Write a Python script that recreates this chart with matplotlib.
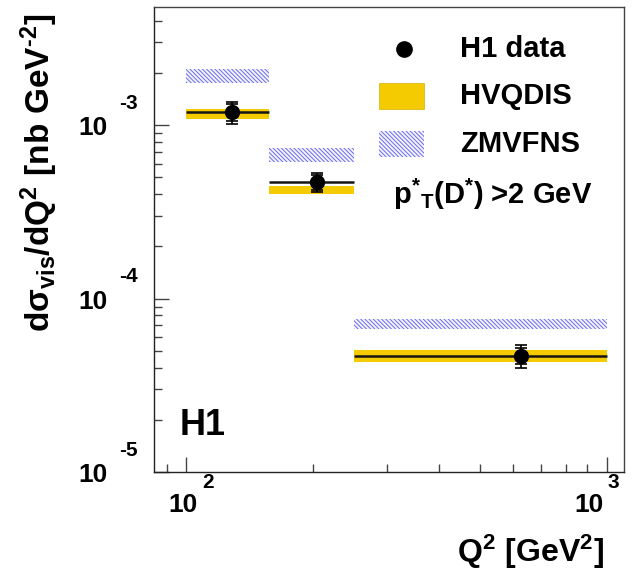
import numpy as np
import matplotlib
matplotlib.use('Agg')
import matplotlib.pyplot as plt
from matplotlib.transforms import blended_transform_factory, offset_copy

plt.rcParams['font.family'] = ['Liberation Sans', 'DejaVu Sans']
plt.rcParams['font.weight'] = 'bold'
plt.rcParams['mathtext.fontset'] = 'custom'
plt.rcParams['mathtext.rm'] = 'Liberation Sans:bold'
plt.rcParams['mathtext.it'] = 'Liberation Sans:bold'
plt.rcParams['mathtext.bf'] = 'Liberation Sans:bold'
plt.rcParams['hatch.linewidth'] = 0.7

# Q^2 bins and measured cross sections
bin_edges = [100, 158, 251, 1000]
q2_centre = [129, 205, 625]
h1_data = [1.19e-3, 4.70e-4, 4.68e-5]
h1_stat = [0.14e-3, 0.45e-4, 0.51e-5]
h1_tot = [0.17e-3, 0.60e-4, 0.70e-5]

# theory bands (low, high)
hvqdis_lo = [1.09e-3, 4.01e-4, 4.32e-5]
hvqdis_hi = [1.24e-3, 4.44e-4, 5.07e-5]
zmvfns_lo = [1.74e-3, 6.12e-4, 6.66e-5]
zmvfns_hi = [2.10e-3, 7.38e-4, 7.67e-5]

yellow = '#f4cb00'
hatch_col = '#6a6aee'
hatch = '\\' * 8

fig = plt.figure(figsize=(6.41, 5.71), dpi=100)
ax = fig.add_axes([154/641, 1-472/571, 470/641, 465/571])
ax.set_xscale('log')
ax.set_yscale('log')
ax.set_xlim(84, 1100)
ax.set_ylim(1e-5, 4.8e-3)

for i in range(3):
    xs = [bin_edges[i], bin_edges[i+1]]
    ax.fill_between(xs, zmvfns_lo[i], zmvfns_hi[i], facecolor='#f4f4ff',
                    edgecolor=hatch_col, hatch=hatch, linewidth=0)
    ax.fill_between(xs, hvqdis_lo[i], hvqdis_hi[i], color=yellow, linewidth=0)

xerr = [np.array(q2_centre) - np.array(bin_edges[:-1]),
        np.array(bin_edges[1:]) - np.array(q2_centre)]
ax.errorbar(q2_centre, h1_data, xerr=xerr, fmt='none', ecolor='#151515',
            elinewidth=1.8)
ax.errorbar(q2_centre, h1_data, yerr=h1_tot, fmt='none', ecolor='black',
            elinewidth=1.2, capsize=4, capthick=1.2)
ax.errorbar(q2_centre, h1_data, yerr=h1_stat, fmt='o', color='black',
            ms=10, elinewidth=1.2, capsize=4, capthick=1.2)

# ticks, ROOT style
for s in ['top', 'right']:
    ax.spines[s].set_color('#444444')
for s in ['left', 'bottom']:
    ax.spines[s].set_color('#222222')
for s in ax.spines.values():
    s.set_linewidth(1.0)
ax.tick_params(which='both', direction='in', top=False, right=False,
               color='#444444', labelleft=False, labelbottom=False)
ax.tick_params(which='major', length=11, width=1)
ax.tick_params(which='minor', length=5.5, width=1)

ydec = [1e-3, 1e-4, 1e-5]
yexp = ['-3', '-4', '-5']
ty = blended_transform_factory(ax.transAxes, ax.transData)
for v, e in zip(ydec, yexp):
    ax.text(0, v, '10', fontsize=19, ha='right', va='center',
            transform=offset_copy(ty, fig=fig, x=-46, y=-3, units='dots'))
    ax.text(0, v, e, fontsize=15, ha='left', va='center',
            transform=offset_copy(ty, fig=fig, x=-35, y=22, units='dots'))

xdec = [100, 1000]
xexp = ['2', '3']
xshift = [-3, -18]
tx = blended_transform_factory(ax.transData, ax.transAxes)
for v, e, d in zip(xdec, xexp, xshift):
    ax.text(v, 0, '10', fontsize=19, ha='center', va='center',
            transform=offset_copy(tx, fig=fig, x=d, y=-33, units='dots'))
    ax.text(v, 0, e, fontsize=15, ha='left', va='center',
            transform=offset_copy(tx, fig=fig, x=d+19, y=-11, units='dots'))

ax.set_ylabel(r'$\mathrm{d\sigma_{vis}/dQ^{2}\ [nb\ GeV^{\text{-}2}]}$',
              fontsize=24, loc='top')
ax.yaxis.set_label_coords(-0.2, 0.985)
ax.set_xlabel(r'$\mathrm{Q^{2}\ [GeV^{2}]}$', fontsize=23, loc='right')
ax.xaxis.set_label_coords(0.957, -0.13)

# legend drawn by hand
ax.plot([0.532], [0.9097], 'o', color='black', ms=11, transform=ax.transAxes)
ax.text(0.651, 0.9097, 'H1 data', fontsize=21, va='center', transform=ax.transAxes)
ax.add_patch(plt.Rectangle((0.479, 0.780), 0.095, 0.056, facecolor=yellow,
                           edgecolor='#d8b000', lw=0.5, transform=ax.transAxes))
ax.text(0.651, 0.8086, 'HVQDIS', fontsize=21, va='center', transform=ax.transAxes)
ax.add_patch(plt.Rectangle((0.479, 0.678), 0.095, 0.055, facecolor='#f4f4ff',
                           edgecolor=hatch_col, hatch=hatch, lw=0,
                           transform=ax.transAxes))
ax.text(0.651, 0.705, 'ZMVFNS', fontsize=21, va='center', transform=ax.transAxes)
ax.text(0.5085, 0.596, r'p$^{*}{}_{T}$(D$^{*}$) >2 GeV', fontsize=21,
        va='center', transform=ax.transAxes)
ax.text(0.055, 0.099, 'H1', fontsize=26, va='center', transform=ax.transAxes)

fig.savefig('out.png', dpi=100)
